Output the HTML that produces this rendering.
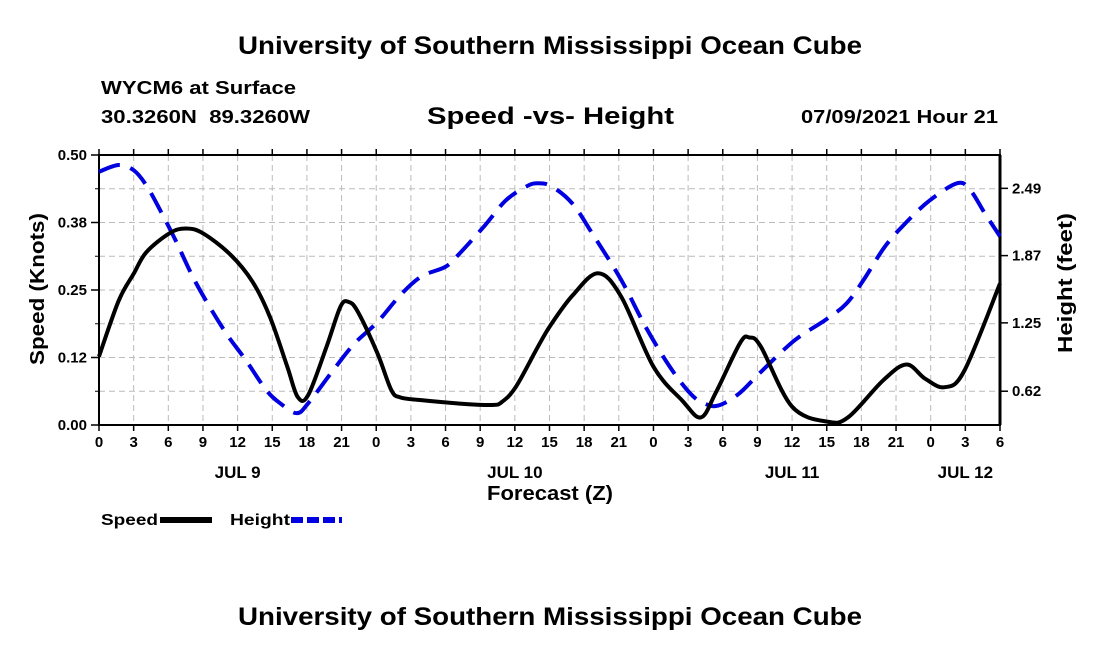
<!DOCTYPE html>
<html><head><meta charset="utf-8"><style>
body{margin:0;background:#fff;}
svg text{font-family:"Liberation Sans",Arial,sans-serif;font-weight:bold;fill:#000;}
</style></head><body>
<svg width="1100" height="650" viewBox="0 0 1100 650">
<text x="238" y="54" font-size="25" textLength="624" lengthAdjust="spacingAndGlyphs">University of Southern Mississippi Ocean Cube</text>
<text x="101" y="94" font-size="18" font-weight="normal" textLength="195" lengthAdjust="spacingAndGlyphs">WYCM6 at Surface</text>
<text x="101" y="123" font-size="18" textLength="209" lengthAdjust="spacingAndGlyphs" xml:space="preserve">30.3260N  89.3260W</text>
<text x="427" y="124" font-size="24" textLength="247" lengthAdjust="spacingAndGlyphs">Speed -vs- Height</text>
<text x="801" y="123" font-size="18" textLength="197" lengthAdjust="spacingAndGlyphs">07/09/2021 Hour 21</text>
<g id="grid"></g>
<g id="axes"></g>
<g id="series"></g>
<text transform="translate(44,289) rotate(-90)" font-size="20" text-anchor="middle" textLength="152" lengthAdjust="spacingAndGlyphs">Speed (Knots)</text>
<text transform="translate(1072,283) rotate(-90)" font-size="20" text-anchor="middle" textLength="140" lengthAdjust="spacingAndGlyphs">Height (feet)</text>
<text x="487" y="500" font-size="20" textLength="126" lengthAdjust="spacingAndGlyphs">Forecast (Z)</text>
<g>
<text x="101" y="525" font-size="16" textLength="57" lengthAdjust="spacingAndGlyphs">Speed</text>
<line x1="160" y1="520" x2="212" y2="520" stroke="#000" stroke-width="6"/>
<text x="230" y="525" font-size="16" textLength="60" lengthAdjust="spacingAndGlyphs">Height</text>
<line x1="291" y1="520" x2="342" y2="520" stroke="#0000e0" stroke-width="6" stroke-dasharray="12,4"/>
</g>
<text x="238" y="625" font-size="25" textLength="624" lengthAdjust="spacingAndGlyphs">University of Southern Mississippi Ocean Cube</text>
</svg>
<script>
const speedHours=[0,1.7,3,4.1,6.1,7.5,9,11.4,13.3,14.8,16.3,17.2,18.1,19.7,20.9,21.6,22.4,24.1,25.3,26.1,27.9,31,34,34.9,36.1,38,39.1,41,43.2,45.2,48,50.5,52.1,53.4,55.5,56.3,57.3,60,63.1,64.9,67.9,69.9,71.5,73.2,74.9,78];
const speedValues=[0.127,0.23,0.28,0.32,0.355,0.364,0.355,0.315,0.265,0.2,0.108,0.052,0.055,0.145,0.219,0.228,0.21,0.133,0.065,0.051,0.046,0.04,0.037,0.043,0.071,0.145,0.185,0.24,0.281,0.238,0.108,0.045,0.014,0.06,0.152,0.162,0.145,0.034,0.006,0.015,0.083,0.112,0.086,0.07,0.10,0.262];
const heightHours=[0,1.7,3,4.1,5.3,6.6,8.4,10.8,12.7,14.5,15.7,17.1,18.1,20.3,22.1,24.1,26.1,27.9,30,31.2,33.4,35.2,37,38,39.2,41,42.8,45.2,47.3,49.4,51.2,52.4,53.6,55.4,57.2,60.2,62.9,64.7,66.2,68,69.8,71.9,74.3,75.4,76.7,78];
const heightValues=[2.646,2.708,2.66,2.52,2.29,2.02,1.62,1.19,0.91,0.63,0.51,0.42,0.51,0.82,1.06,1.26,1.51,1.68,1.77,1.89,2.15,2.38,2.51,2.54,2.51,2.35,2.06,1.65,1.22,0.85,0.60,0.51,0.49,0.60,0.79,1.09,1.28,1.43,1.65,1.95,2.17,2.38,2.54,2.48,2.26,2.05];
const hourTicks=[0,3,6,9,12,15,18,21,0,3,6,9,12,15,18,21,0,3,6,9,12,15,18,21,0,3,6];
const dayLabels=["JUL 9","JUL 10","JUL 11","JUL 12"];
const dayLabelHours=[12,36,60,75];
const speedTicks=["0.00","0.12","0.25","0.38","0.50"];
const heightTicks=["0.62","1.25","1.87","2.49"];

const L=99,R=1000,T=155,B=425,HMAX=78,HMIN_FT=0.311,HMAX_FT=2.80;
const NS="http://www.w3.org/2000/svg";
const xS=h=>L+(R-L)*h/HMAX;
const yS=v=>B-(B-T)*v/0.5;
const yH=v=>B-(B-T)*(v-HMIN_FT)/(HMAX_FT-HMIN_FT);
function mk(tag,attrs,parent){const e=document.createElementNS(NS,tag);for(const k in attrs)e.setAttribute(k,attrs[k]);parent.appendChild(e);return e;}
const grid=document.getElementById('grid'),axes=document.getElementById('axes'),series=document.getElementById('series');
for(let i=0;i<hourTicks.length;i++){
  const x=xS(i*3);
  if(i>0&&i<hourTicks.length-1){const g=mk('line',{x1:x,x2:x,y1:T,y2:B,stroke:'#bbb','stroke-width':1,'stroke-dasharray':'6,4'},grid);
  
  }
  mk('line',{x1:x,x2:x,y1:B,y2:B+6,stroke:'#000','stroke-width':1.5},axes);
  mk('line',{x1:x,x2:x,y1:T,y2:T-6,stroke:'#000','stroke-width':1.5},axes);
  const t=mk('text',{x:x,y:B+22,'font-size':15,'text-anchor':'middle'},axes);t.textContent=hourTicks[i];
  
  
}
for(let j=1;j<8;j++){const y=B-(B-T)*j/8;
  const g=mk('line',{x1:L,x2:R,y1:y,y2:y,stroke:'#bbb','stroke-width':1,'stroke-dasharray':'6,4'},grid);
  
  
  mk('line',{x1:L-4,x2:L,y1:y,y2:y,stroke:'#000','stroke-width':1},axes);}
speedTicks.forEach((s,i)=>{const y=B-(B-T)*i/4;
  mk('line',{x1:L-8,x2:L,y1:y,y2:y,stroke:'#000','stroke-width':1.5},axes);
  const t=mk('text',{x:L-12,y:y+5,'font-size':15,'text-anchor':'end'},axes);t.textContent=s;
  
  });
heightTicks.forEach(s=>{const y=yH(parseFloat(s)+0.0025);
  mk('line',{x1:R,x2:R+8,y1:y,y2:y,stroke:'#000','stroke-width':1.5},axes);
  const t=mk('text',{x:R+12,y:y+5,'font-size':15},axes);t.textContent=s;
  
  });
dayLabels.forEach((d,i)=>{const t=mk('text',{x:xS(dayLabelHours[i]),y:B+53,'font-size':17,'text-anchor':'middle'},axes);t.textContent=d;
  
  });
mk('rect',{x:L,y:T,width:R-L,height:B-T,fill:'none',stroke:'#000','stroke-width':2},axes);
mk('line',{x1:R,x2:R,y1:T,y2:B,stroke:'#000','stroke-width':3},axes);
function smooth(pts){let d=`M${pts[0][0]},${pts[0][1]}`;
  for(let i=0;i<pts.length-1;i++){const p0=pts[i-1]||pts[i],p1=pts[i],p2=pts[i+1],p3=pts[i+2]||p2;
    d+=` C${p1[0]+(p2[0]-p0[0])/6},${p1[1]+(p2[1]-p0[1])/6} ${p2[0]-(p3[0]-p1[0])/6},${p2[1]-(p3[1]-p1[1])/6} ${p2[0]},${p2[1]}`;}
  return d;}
const hp=mk('path',{d:smooth(heightHours.map((h,i)=>[xS(h),yH(heightValues[i])])),fill:'none',stroke:'#0000e0','stroke-width':4,'stroke-dasharray':'22,11'},series);


const sp=mk('path',{d:smooth(speedHours.map((h,i)=>[xS(h),yS(speedValues[i])])),fill:'none',stroke:'#000','stroke-width':4},series);


</script>
</body></html>
